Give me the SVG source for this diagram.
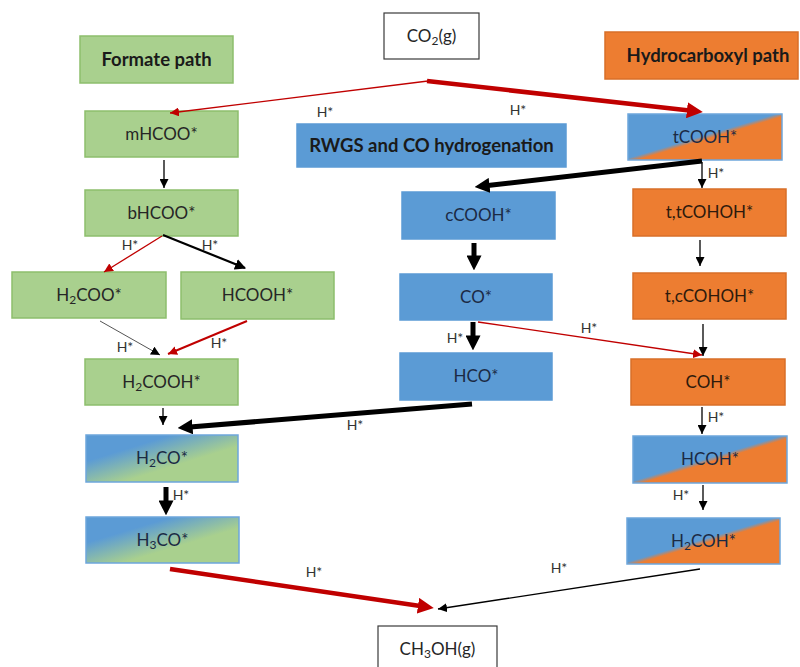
<svg xmlns="http://www.w3.org/2000/svg" width="800" height="667" viewBox="0 0 800 667">
<defs>
<style>
.g{fill:#A9D08E;stroke:#8DBE6C;stroke-width:1.5}
.b{fill:#5B9BD5;stroke:#5B9BD5;stroke-width:1.5}
.o{fill:#ED7D31;stroke:#D86F28;stroke-width:1.5}
.bo{fill:url(#gBO);stroke:#6DA6DC;stroke-width:1.5}
.bg{fill:url(#gBG);stroke:#6DA6DC;stroke-width:1.5}
.w{fill:#fff;stroke:#3a3a3a;stroke-width:1.2}
text{font-family:Lato,"Liberation Sans",sans-serif;text-anchor:middle}
.t{font-size:17px;fill:#262626}
.tb{font-size:17px;fill:#1B2A44}
.to{font-size:17px;fill:#2E1A0C}
.h{font-size:18.5px;font-weight:bold;fill:#1a1a1a}
.l{font-size:14px;fill:#333}
.s{font-size:12px}
.k1{stroke:#000;stroke-width:1.3;fill:none}
.k2{stroke:#000;stroke-width:2.2;fill:none}
.k5{stroke:#000;stroke-width:5;fill:none}
.r1{stroke:#C00000;stroke-width:1.3;fill:none}
.r2{stroke:#C00000;stroke-width:2;fill:none}
.r5{stroke:#C00000;stroke-width:4.5;fill:none}
.gy{stroke:#555;stroke-width:1;fill:none}
</style>
<linearGradient id="gBO" x1="0" y1="0" x2="1" y2="1">
<stop offset="0" stop-color="#5B9BD5"/><stop offset="0.48" stop-color="#5B9BD5"/><stop offset="0.53" stop-color="#ED7D31"/><stop offset="1" stop-color="#ED7D31"/>
</linearGradient>
<linearGradient id="gBG" x1="0" y1="0" x2="1" y2="1">
<stop offset="0.28" stop-color="#5B9BD5"/><stop offset="0.62" stop-color="#A9D08E"/><stop offset="1" stop-color="#A9D08E"/>
</linearGradient>
<marker id="aK" markerUnits="userSpaceOnUse" viewBox="0 0 10 10" refX="10" refY="5" markerWidth="9" markerHeight="9" orient="auto"><path d="M0,0 L10,5 L0,10 z" fill="#000"/></marker>
<marker id="aK2" markerUnits="userSpaceOnUse" viewBox="0 0 10 10" refX="9" refY="5" markerWidth="11" markerHeight="11" orient="auto"><path d="M0,0 L10,5 L0,10 z" fill="#000"/></marker>
<marker id="aKB" markerUnits="userSpaceOnUse" viewBox="0 0 14 14" refX="8" refY="7" markerWidth="15" markerHeight="15" orient="auto"><path d="M0,0 L14,7 L0,14 z" fill="#000"/></marker>
<marker id="aR" markerUnits="userSpaceOnUse" viewBox="0 0 10 10" refX="10" refY="5" markerWidth="9" markerHeight="9" orient="auto"><path d="M0,0 L10,5 L0,10 z" fill="#C00000"/></marker>
<marker id="aRB" markerUnits="userSpaceOnUse" viewBox="0 0 14 14" refX="8" refY="7" markerWidth="16" markerHeight="16" orient="auto"><path d="M0,0 L14,7 L0,14 z" fill="#C00000"/></marker>
</defs>
<rect width="800" height="667" fill="#fff"/>

<g id="n-formate"><rect class="g" x="80" y="36" width="153" height="47"/><text class="h" x="156.5" y="66">Formate path</text></g>
<g id="n-co2"><rect class="w" x="384" y="13" width="95" height="46"/><text class="t" x="431.5" y="42">CO<tspan class="s" dy="3">2</tspan><tspan dy="-3">(g)</tspan></text></g>
<g id="n-hydro"><rect class="o" x="605" y="32" width="193" height="47"/><text class="h" x="708" y="62">Hydrocarboxyl path</text></g>
<g id="n-rwgs"><rect class="b" x="297" y="124" width="269" height="43"/><text class="h" x="431.5" y="152">RWGS and CO hydrogenation</text></g>

<g id="n-mHCOO"><rect class="g" x="85" y="111" width="153" height="46"/><text class="t" x="161.5" y="140">mHCOO*</text></g>
<g id="n-bHCOO"><rect class="g" x="85" y="190" width="153" height="46"/><text class="t" x="161.5" y="219">bHCOO*</text></g>
<g id="n-H2COO"><rect class="g" x="12" y="272" width="154" height="46"/><text class="t" x="89" y="301">H<tspan class="s" dy="3">2</tspan><tspan dy="-3">COO*</tspan></text></g>
<g id="n-HCOOH"><rect class="g" x="181" y="272" width="153" height="47"/><text class="t" x="257.5" y="301">HCOOH*</text></g>
<g id="n-H2COOH"><rect class="g" x="85" y="359" width="153" height="46"/><text class="t" x="161.5" y="388">H<tspan class="s" dy="3">2</tspan><tspan dy="-3">COOH*</tspan></text></g>
<g id="n-H2CO"><rect class="bg" x="86" y="435" width="152" height="47"/><text class="tb" x="162" y="464">H<tspan class="s" dy="3">2</tspan><tspan dy="-3">CO*</tspan></text></g>
<g id="n-H3CO"><rect class="bg" x="86" y="517" width="153" height="46"/><text class="tb" x="162.5" y="546">H<tspan class="s" dy="3">3</tspan><tspan dy="-3">CO*</tspan></text></g>

<g id="n-cCOOH"><rect class="b" x="402" y="192" width="153" height="47"/><text class="tb" x="478.5" y="221">cCOOH*</text></g>
<g id="n-CO"><rect class="b" x="400" y="274" width="152" height="46"/><text class="tb" x="476" y="303">CO*</text></g>
<g id="n-HCO"><rect class="b" x="400" y="353" width="152" height="47"/><text class="tb" x="476" y="382">HCO*</text></g>

<g id="n-tCOOH"><rect class="bo" x="628" y="114" width="154" height="46"/><text class="tb" x="705" y="143">tCOOH*</text></g>
<g id="n-ttCOHOH"><rect class="o" x="633" y="189" width="153" height="47"/><text class="to" x="709.5" y="218">t,tCOHOH*</text></g>
<g id="n-tcCOHOH"><rect class="o" x="633" y="273" width="153" height="46"/><text class="to" x="709.5" y="302">t,cCOHOH*</text></g>
<g id="n-COH"><rect class="o" x="631" y="359" width="154" height="46"/><text class="to" x="708" y="388">COH*</text></g>
<g id="n-HCOH"><rect class="bo" x="633" y="436" width="154" height="47"/><text class="tb" x="710" y="465">HCOH*</text></g>
<g id="n-H2COH"><rect class="bo" x="627" y="518" width="153" height="46"/><text class="tb" x="703.5" y="547">H<tspan class="s" dy="3">2</tspan><tspan dy="-3">COH*</tspan></text></g>

<g id="n-CH3OH"><rect class="w" x="378" y="626" width="119" height="50"/><text class="t" x="437.5" y="655">CH<tspan class="s" dy="3">3</tspan><tspan dy="-3">OH(g)</tspan></text></g>

<g id="connectors">
<path class="r1" d="M428,81 L170,113" marker-end="url(#aR)"/>
<path class="r5" d="M427,81 L696,111.3" marker-end="url(#aRB)"/>
<path class="k1" d="M164,160 L164,188" marker-end="url(#aK)"/>
<path class="r1" d="M162,236 L104,272" marker-end="url(#aR)"/>
<path class="k2" d="M163,235 L245,268" marker-end="url(#aK2)"/>
<path class="gy" d="M100,321 L160,355" marker-end="url(#aK)"/>
<path class="r2" d="M247,321 L168,354" marker-end="url(#aR)"/>
<path class="k1" d="M163,408 L163,425" marker-end="url(#aK)"/>
<path class="k5" d="M472,404 L184,427.5" marker-end="url(#aKB)"/>
<path class="k5" d="M702,161 L481,186.3" marker-end="url(#aKB)"/>
<path class="k1" d="M702,162 L702,188" marker-end="url(#aK)"/>
<path class="k5" d="M474,243 L474,264" marker-end="url(#aKB)"/>
<path class="k5" d="M473,322 L473,344" marker-end="url(#aKB)"/>
<path class="r1" d="M478,322 L702,355" marker-end="url(#aR)"/>
<path class="k1" d="M700,240 L700,266" marker-end="url(#aK)"/>
<path class="k1" d="M703,324 L703,356" marker-end="url(#aK)"/>
<path class="k1" d="M702,407 L702,434" marker-end="url(#aK)"/>
<path class="k1" d="M703,485 L703,510" marker-end="url(#aK)"/>
<path class="k5" d="M166,487 L166,509" marker-end="url(#aKB)"/>
<path class="r5" d="M170,569 L427,607.1" marker-end="url(#aRB)"/>
<path class="k1" d="M700,569 L438,609" marker-end="url(#aK)"/>
<text class="l" x="325" y="117">H*</text>
<text class="l" x="518" y="115">H*</text>
<text class="l" x="130" y="250">H*</text>
<text class="l" x="210" y="250">H*</text>
<text class="l" x="125" y="352">H*</text>
<text class="l" x="219" y="348">H*</text>
<text class="l" x="355" y="430">H*</text>
<text class="l" x="716" y="178">H*</text>
<text class="l" x="455" y="343">H*</text>
<text class="l" x="589" y="333">H*</text>
<text class="l" x="716" y="422">H*</text>
<text class="l" x="681" y="500">H*</text>
<text class="l" x="181" y="500">H*</text>
<text class="l" x="314" y="577">H*</text>
<text class="l" x="559" y="573">H*</text>
</g>
</svg>
